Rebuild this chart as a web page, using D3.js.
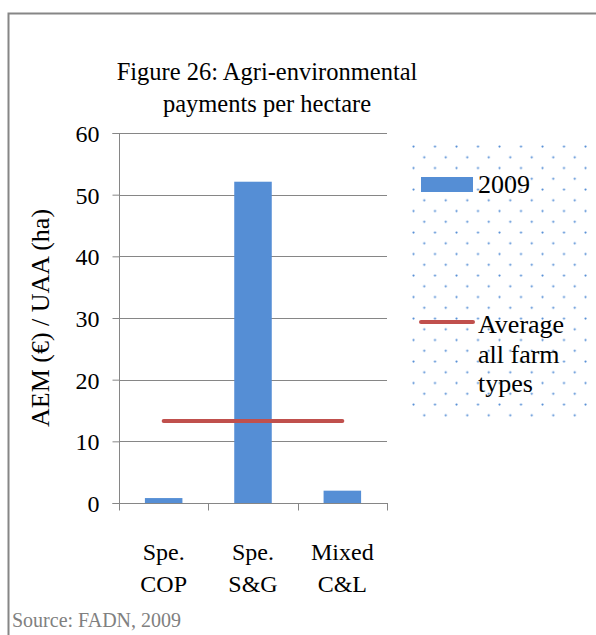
<!DOCTYPE html>
<html>
<head>
<meta charset="utf-8">
<script src="https://cdn.jsdelivr.net/npm/d3@7"></script>
<style>
  body { margin: 0; background: #fff; }
  text { font-family: "Liberation Serif", "Times New Roman", serif; }
</style>
</head>
<body>
<div id="chart"></div>
<script>
'use strict';

var categories = [['Spe.', 'COP'], ['Spe.', 'S&G'], ['Mixed', 'C&L']];
var values2009 = [0.8, 52.1, 2.0];
var averageAll = [13.3, 13.3, 13.3];
var yTicks = [0, 10, 20, 30, 40, 50, 60];

var W = 596, H = 635;
var plot = { left: 119, right: 387, top: 133, bottom: 503 };

var svg = d3.select('#chart').append('svg')
  .attr('width', W)
  .attr('height', H);

// outer frame
svg.append('rect')
  .attr('x', 8.5).attr('y', 13.5)
  .attr('width', 600).attr('height', 640)
  .attr('fill', '#fff')
  .attr('stroke', '#868686')
  .attr('stroke-width', 2);

// title
var title = svg.append('text')
  .attr('text-anchor', 'middle')
  .attr('font-size', 24.5)
  .attr('fill', '#000');
title.append('tspan').attr('x', 267).attr('y', 80).text('Figure 26: Agri-environmental');
title.append('tspan').attr('x', 267).attr('y', 112).text('payments per hectare');

var x = d3.scaleBand()
  .domain(d3.range(categories.length))
  .range([plot.left, plot.right])
  .paddingInner(0.58)
  .paddingOuter(0.29);

var xc = d3.scalePoint()
  .domain(d3.range(categories.length))
  .range([plot.left, plot.right])
  .padding(0.5);

var y = d3.scaleLinear()
  .domain([0, 60])
  .range([plot.bottom, plot.top]);

// gridlines
svg.append('g')
  .selectAll('line')
  .data(yTicks.filter(function (d) { return d > 0; }))
  .join('line')
  .attr('x1', plot.left).attr('x2', plot.right)
  .attr('y1', function (d) { return Math.round(y(d)) + 0.5; })
  .attr('y2', function (d) { return Math.round(y(d)) + 0.5; })
  .attr('stroke', '#868686')
  .attr('stroke-width', 1);

// y axis
var yAxis = svg.append('g')
  .attr('transform', 'translate(' + (plot.left + 0.5) + ',0)')
  .call(d3.axisLeft(y).tickValues(yTicks).tickSize(7).tickPadding(13));
yAxis.select('.domain').attr('stroke', '#868686').attr('d', 'M-7,' + (plot.top + 0.5) + 'H0V' + (plot.bottom + 0.5) + 'H-7');
yAxis.selectAll('.tick line').attr('stroke', '#868686');
yAxis.selectAll('.tick text')
  .attr('font-size', 24)
  .attr('fill', '#000')
  .attr('dy', '0.35em');

// y title
svg.append('text')
  .attr('transform', 'translate(49,' + ((plot.top + plot.bottom) / 2) + ') rotate(-90)')
  .attr('text-anchor', 'middle')
  .attr('font-size', 26)
  .attr('fill', '#000')
  .text('AEM (€) / UAA (ha)');

// bars
svg.append('g')
  .selectAll('rect')
  .data(values2009)
  .join('rect')
  .attr('x', function (d, i) { return x(i); })
  .attr('width', x.bandwidth())
  .attr('y', function (d) { return y(d); })
  .attr('height', function (d) { return y(0) - y(d); })
  .attr('fill', '#558ED5');

// x axis
var xAxisY = Math.round(y(0)) + 0.5;
svg.append('line')
  .attr('x1', plot.left).attr('x2', plot.right + 1)
  .attr('y1', xAxisY).attr('y2', xAxisY)
  .attr('stroke', '#868686');
var xTickPos = d3.range(categories.length + 1).map(function (i) {
  return plot.left + i * (plot.right - plot.left) / categories.length;
});
svg.append('g')
  .selectAll('line')
  .data(xTickPos)
  .join('line')
  .attr('x1', function (d) { return Math.round(d) + 0.5; })
  .attr('x2', function (d) { return Math.round(d) + 0.5; })
  .attr('y1', xAxisY).attr('y2', xAxisY + 7)
  .attr('stroke', '#868686');

svg.append('g')
  .selectAll('text')
  .data(categories)
  .join('text')
  .attr('text-anchor', 'middle')
  .attr('font-size', 24)
  .attr('fill', '#000')
  .each(function (d, i) {
    var t = d3.select(this);
    t.append('tspan').attr('x', xc(i)).attr('y', 560).text(d[0]);
    t.append('tspan').attr('x', xc(i)).attr('y', 592).text(d[1]);
  });

// average line
var line = d3.line()
  .x(function (d, i) { return xc(i); })
  .y(function (d) { return y(d); });
svg.append('path')
  .datum(averageAll)
  .attr('d', line)
  .attr('fill', 'none')
  .attr('stroke', '#C0504D')
  .attr('stroke-width', 4)
  .attr('stroke-linecap', 'round');

// legend with dotted background
var defs = svg.append('defs');
var pat = defs.append('pattern')
  .attr('id', 'dots')
  .attr('patternUnits', 'userSpaceOnUse')
  .attr('x', 412).attr('y', 145)
  .attr('width', 21.5).attr('height', 21.5);
pat.append('circle').attr('cx', 1.5).attr('cy', 1.5).attr('r', 1.1).attr('fill', '#558ED5');
pat.append('circle').attr('cx', 12.25).attr('cy', 12.25).attr('r', 1.1).attr('fill', '#558ED5');

svg.append('rect')
  .attr('x', 410).attr('y', 143)
  .attr('width', 178).attr('height', 274)
  .attr('fill', 'url(#dots)');

svg.append('rect')
  .attr('x', 421).attr('y', 177)
  .attr('width', 52).attr('height', 15)
  .attr('fill', '#558ED5');
svg.append('text')
  .attr('x', 478).attr('y', 193)
  .attr('font-size', 26)
  .attr('fill', '#000')
  .text('2009');

svg.append('line')
  .attr('x1', 421).attr('x2', 473)
  .attr('y1', 322).attr('y2', 322)
  .attr('stroke', '#C0504D')
  .attr('stroke-width', 4)
  .attr('stroke-linecap', 'round');
var legText = svg.append('text')
  .attr('font-size', 26)
  .attr('fill', '#000');
['Average', 'all farm', 'types'].forEach(function (s, i) {
  legText.append('tspan').attr('x', 478).attr('y', 333 + i * 29.5).text(s);
});

// source
svg.append('text')
  .attr('x', 12).attr('y', 627)
  .attr('font-size', 20)
  .attr('fill', '#808080')
  .text('Source: FADN, 2009');
</script>
</body>
</html>
